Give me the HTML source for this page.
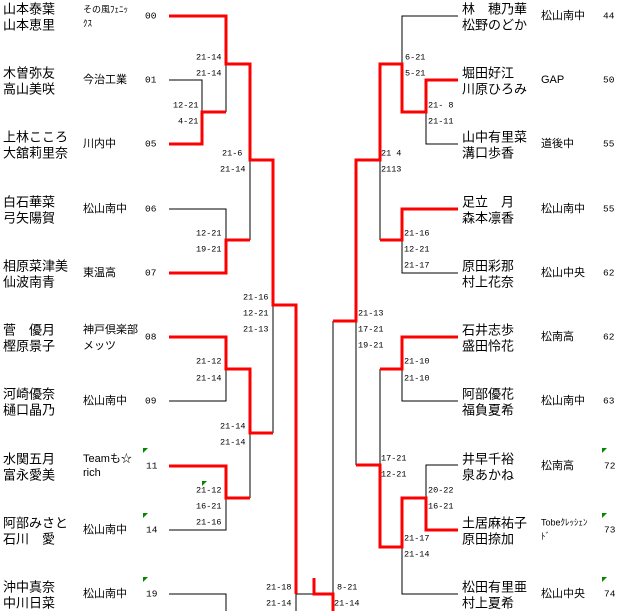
<!DOCTYPE html>
<html><head><meta charset="utf-8"><style>
html,body{margin:0;padding:0;background:#fff;}
svg{display:block;}
.n{font-family:"Liberation Sans","Noto Sans CJK JP",sans-serif;font-size:13px;fill:#000;}
.t{font-family:"Liberation Sans","Noto Sans CJK JP",sans-serif;font-size:11px;fill:#000;}
.t2{font-family:"Liberation Sans","Noto Sans CJK JP",sans-serif;font-size:9px;fill:#000;}
.s{font-family:"Liberation Mono",monospace;font-size:8.5px;fill:#000;}
.sd{font-family:"Liberation Mono",monospace;font-size:9.5px;fill:#000;}
.r{stroke:#f00;stroke-width:3;fill:none;}
.b{stroke:#000;stroke-width:1;fill:none;}
</style></head><body>
<svg width="620" height="611" xmlns="http://www.w3.org/2000/svg" dominant-baseline="middle">
<polyline class="b" points="169,80 202,80 202,112"/>
<polyline class="b" points="226,64 226,112"/>
<polyline class="b" points="169,209 226,209 226,240"/>
<polyline class="b" points="250,160 250,240"/>
<polyline class="b" points="273,305 273,433"/>
<polyline class="b" points="169,401 226,401 226,370"/>
<polyline class="b" points="250,433 250,498"/>
<polyline class="b" points="169,530 226,530 226,498"/>
<polyline class="b" points="169,594 226,594 226,611"/>
<polyline class="b" points="296,594 313,594"/>
<polyline class="b" points="296,594 296,611"/>
<polyline class="b" points="333,594 333,321"/>
<polyline class="r" points="169,144 202,144 202,112 226,112"/>
<polyline class="r" points="169,16 226,16 226,64 250,64 250,160 273,160 273,305 296,305 296,594"/>
<polyline class="r" points="169,273 226,273 226,240 250,240"/>
<polyline class="r" points="169,337 226,337 226,369 250,369 250,433 273,433"/>
<polyline class="r" points="169,466 226,466 226,498 250,498"/>
<polyline class="r" points="314,578 314,594 333,594 333,611"/>
<polyline class="b" points="458,16 402,16 402,64"/>
<polyline class="b" points="426,112 426,144 458,144"/>
<polyline class="b" points="380,160 380,240"/>
<polyline class="b" points="402,240 402,273 458,273"/>
<polyline class="b" points="356,321 356,465"/>
<polyline class="b" points="380,369 380,465"/>
<polyline class="b" points="402,369 402,401 458,401"/>
<polyline class="b" points="458,465 426,465 426,498"/>
<polyline class="b" points="402,547 402,594 458,594"/>
<polyline class="r" points="333,321 356,321 356,160 380,160 380,64 402,64 402,112 426,112 426,80 458,80"/>
<polyline class="r" points="458,209 402,209 402,240 380,240"/>
<polyline class="r" points="458,337 402,337 402,369 380,369"/>
<polyline class="r" points="356,465 380,465 380,547 402,547 402,498 426,498 426,530 458,530"/>
<g fill="#080">
<polygon points="143,448 148,448 143,453"/><polygon points="202,481 207,481 202,486"/>
<polygon points="143,513 148,513 143,518"/><polygon points="143,577 148,577 143,582"/>
<polygon points="602,448 607,448 602,453"/><polygon points="602,513 607,513 602,518"/>
<polygon points="602,577 607,577 602,582"/>
</g>
<g class="n">
<text x="3" y="10">山本泰葉</text><text x="3" y="26">山本恵里</text>
<text x="3" y="74">木曽弥友</text><text x="3" y="90">高山美咲</text>
<text x="3" y="138">上林こころ</text><text x="3" y="154">大舘莉里奈</text>
<text x="3" y="203">白石華菜</text><text x="3" y="219">弓矢陽賀</text>
<text x="3" y="267">相原菜津美</text><text x="3" y="283">仙波南青</text>
<text x="3" y="331">菅　優月</text><text x="3" y="347">樫原景子</text>
<text x="3" y="395">河崎優奈</text><text x="3" y="411">樋口晶乃</text>
<text x="3" y="460">水関五月</text><text x="3" y="476">富永愛美</text>
<text x="3" y="524">阿部みさと</text><text x="3" y="540">石川　愛</text>
<text x="3" y="588">沖中真奈</text><text x="3" y="604">中川日菜</text>
</g>
<g class="t">
<text x="83" y="80">今治工業</text><text x="83" y="144">川内中</text>
<text x="83" y="209">松山南中</text><text x="83" y="273">東温高</text>
<text x="83" y="330">神戸倶楽部</text><text x="83" y="346">メッツ</text>
<text x="83" y="401">松山南中</text>
<text x="83" y="459">Teamも☆</text><text x="83" y="473">rich</text>
<text x="83" y="530">松山南中</text><text x="83" y="594">松山南中</text>
</g>
<g class="t2"><text x="83" y="10">その風ﾌｪﾆｯ</text><text x="83" y="24">ｸｽ</text></g>
<g class="sd">
<text x="145" y="16">00</text><text x="145" y="80">01</text><text x="145" y="144">05</text>
<text x="145" y="209">06</text><text x="145" y="273">07</text><text x="145" y="337">08</text>
<text x="145" y="401">09</text><text x="146" y="466">11</text><text x="146" y="530">14</text><text x="146" y="594">19</text>
</g>
<g class="s">
<text x="196" y="57">21-14</text><text x="196" y="73">21-14</text>
<text x="173" y="105">12-21</text><text x="178" y="121">4-21</text>
<text x="222" y="153">21-6</text><text x="220" y="169">21-14</text>
<text x="196" y="233">12-21</text><text x="196" y="249">19-21</text>
<text x="243" y="297">21-16</text><text x="243" y="313">12-21</text><text x="243" y="329">21-13</text>
<text x="196" y="361">21-12</text><text x="196" y="378">21-14</text>
<text x="220" y="426">21-14</text><text x="220" y="442">21-14</text>
<text x="196" y="490">21-12</text><text x="196" y="506">16-21</text><text x="196" y="522">21-16</text>
<text x="266" y="587">21-18</text><text x="266" y="603">21-14</text>
</g>
<g class="n">
<text x="462" y="10">林　穂乃華</text><text x="462" y="26">松野のどか</text>
<text x="462" y="74">堀田好江</text><text x="462" y="90">川原ひろみ</text>
<text x="462" y="138">山中有里菜</text><text x="462" y="154">溝口歩香</text>
<text x="462" y="203">足立　月</text><text x="462" y="219">森本凛香</text>
<text x="462" y="267">原田彩那</text><text x="462" y="283">村上花奈</text>
<text x="462" y="331">石井志歩</text><text x="462" y="347">盛田怜花</text>
<text x="462" y="395">阿部優花</text><text x="462" y="411">福負夏希</text>
<text x="462" y="460">井早千裕</text><text x="462" y="476">泉あかね</text>
<text x="462" y="524">土居麻祐子</text><text x="462" y="540">原田捺加</text>
<text x="462" y="588">松田有里亜</text><text x="462" y="604">村上夏希</text>
</g>
<g class="t">
<text x="541" y="16">松山南中</text><text x="541" y="80">GAP</text><text x="541" y="144">道後中</text>
<text x="541" y="209">松山南中</text><text x="541" y="273">松山中央</text><text x="541" y="337">松南高</text>
<text x="541" y="401">松山南中</text><text x="541" y="466">松南高</text><text x="541" y="594">松山中央</text>
</g>
<g class="t2"><text x="541" y="523">Tobeｸﾚｯｼｪﾝ</text><text x="541" y="537">ﾄﾞ</text></g>
<g class="sd">
<text x="603" y="16">44</text><text x="603" y="80">50</text><text x="603" y="144">55</text>
<text x="603" y="209">55</text><text x="603" y="273">62</text><text x="603" y="337">62</text>
<text x="603" y="401">63</text><text x="604" y="466">72</text><text x="604" y="530">73</text><text x="604" y="594">74</text>
</g>
<g class="s">
<text x="405" y="57">6-21</text><text x="405" y="73">5-21</text>
<text x="428" y="105">21- 8</text><text x="428" y="121">21-11</text>
<text x="381" y="153">21 4</text><text x="381" y="169">2113</text>
<text x="404" y="233">21-16</text><text x="404" y="249">12-21</text><text x="404" y="265">21-17</text>
<text x="358" y="313">21-13</text><text x="358" y="329">17-21</text><text x="358" y="345">19-21</text>
<text x="404" y="361">21-10</text><text x="404" y="378">21-10</text>
<text x="381" y="458">17-21</text><text x="381" y="474">12-21</text>
<text x="428" y="490">20-22</text><text x="428" y="506">16-21</text>
<text x="404" y="538">21-17</text><text x="404" y="554">21-14</text>
<text x="337" y="587">8-21</text><text x="334" y="603">21-14</text>
</g>
</svg>
</body></html>
